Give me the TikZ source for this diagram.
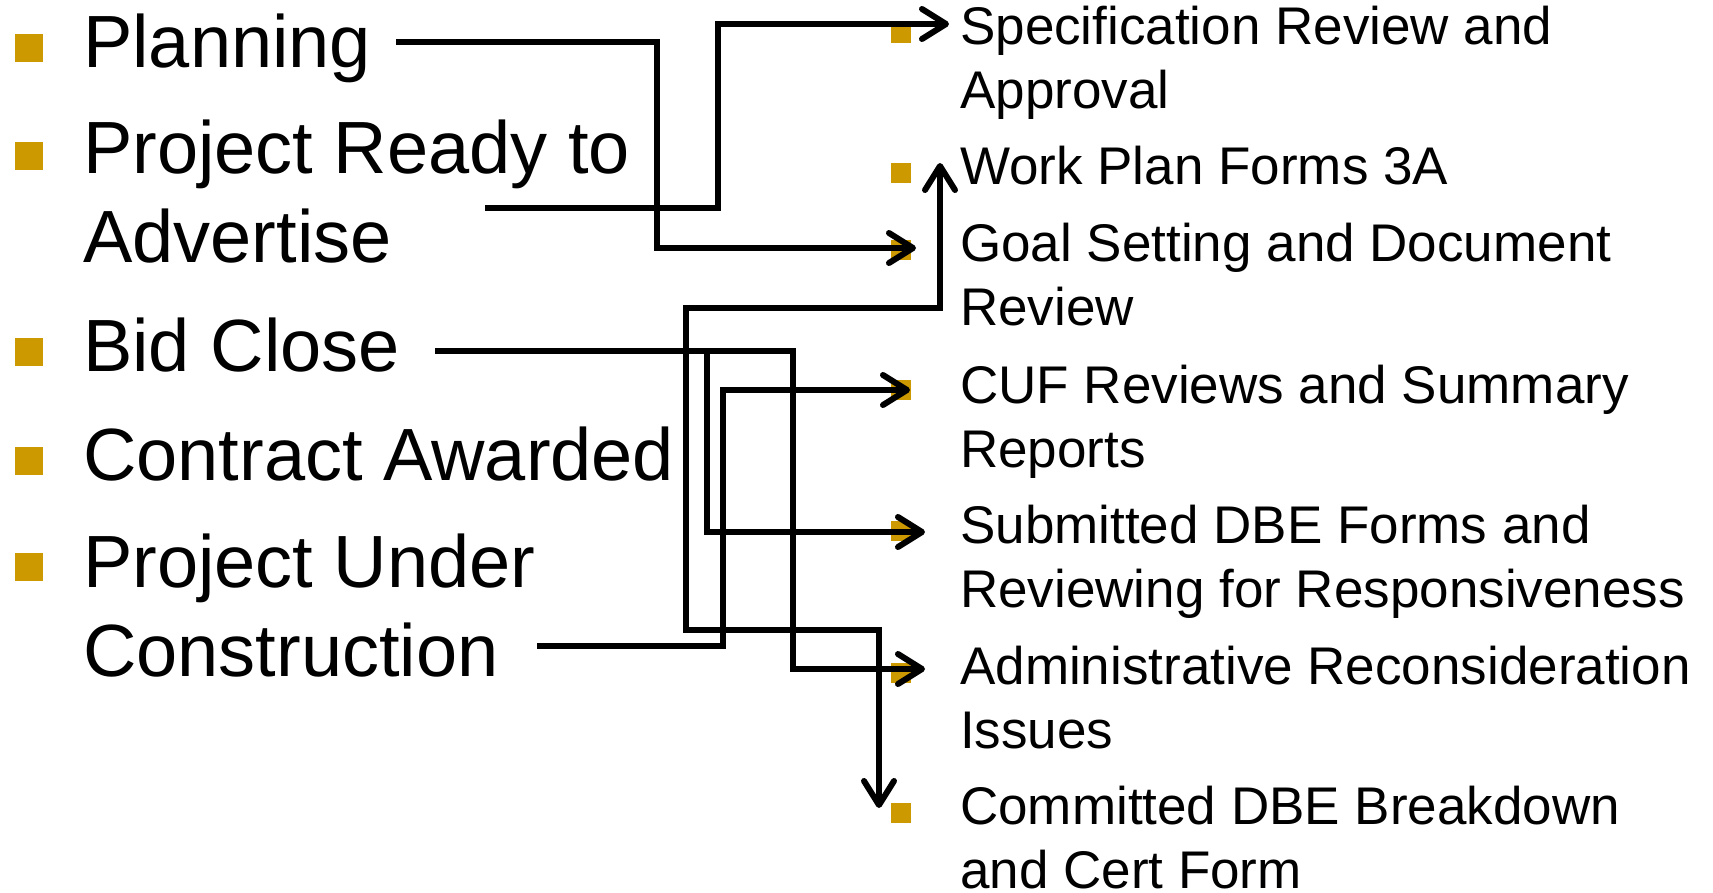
\documentclass[tikz,border=0pt]{standalone}
\usepackage{fontspec}
\setmainfont{Liberation Sans}
\usetikzlibrary{arrows.meta}
\definecolor{bulletgold}{RGB}{204,153,0}
\begin{document}
\begin{tikzpicture}[x=1pt,y=-1pt,
  bigtxt/.style={anchor=base west, inner sep=0pt, align=left, font=\fontsize{74}{89}\selectfont},
  smalltxt/.style={anchor=base west, inner sep=0pt, align=left, font=\fontsize{53}{64}\selectfont},
  bigbul/.style={fill=bulletgold, minimum size=28pt, inner sep=0pt, draw=none},
  smallbul/.style={fill=bulletgold, minimum size=20pt, inner sep=0pt, draw=none},
  tipstyle/.tip={Straight Barb[length=24pt, width=30pt, round]},
  conn/.style={line width=6pt, line join=miter, -tipstyle},
  conntwo/.style={line width=6pt, line join=miter, tipstyle-tipstyle}
]
\useasboundingbox (0,0) rectangle (1713,893);

% left column (multi-line nodes are placed by the baseline of their last line)
\node[bigbul] (bl1) at (28.5,48) {};
\node[bigbul] (bl2) at (28.5,156) {};
\node[bigbul] (bl3) at (28.5,352) {};
\node[bigbul] (bl4) at (28.5,461) {};
\node[bigbul] (bl5) at (28.5,567) {};
\node[bigtxt] (plan) at (83,68) {Planning};
\node[bigtxt] (ready) at (83,263) {Project Ready to\\Advertise};
\node[bigtxt] (bid) at (83,371) {Bid Close};
\node[bigtxt] (award) at (83,480) {Contract Awarded};
\node[bigtxt] (under) at (83,676) {Project Under\\Construction};

% right column
\node[smallbul] (br1) at (901,33) {};
\node[smallbul] (br2) at (901,173) {};
\node[smallbul] (br3) at (901,250) {};
\node[smallbul] (br4) at (901,390) {};
\node[smallbul] (br5) at (901,531) {};
\node[smallbul] (br6) at (901,673) {};
\node[smallbul] (br7) at (901,813) {};
\node[smalltxt] (spec) at (960,109) {Specification Review and\\Approval};
\node[smalltxt] (work) at (960,185) {Work Plan Forms 3A};
\node[smalltxt] (goal) at (960,325) {Goal Setting and Document\\Review};
\node[smalltxt] (cuf) at (960,467) {CUF Reviews and Summary\\Reports};
\node[smalltxt] (subm) at (960,607) {Submitted DBE Forms and\\Reviewing for Responsiveness};
\node[smalltxt] (admin) at (960,748) {Administrative Reconsideration\\Issues};
\node[smalltxt] (comm) at (960,888) {Committed DBE Breakdown\\and Cert Form};

% connector ends
\coordinate (planS) at (396,42);
\coordinate (readyS) at (485,208);
\coordinate (bidS) at (435,351);
\coordinate (bidJ) at (707,351);
\coordinate (underS) at (537,646);
\coordinate (specT) at (949,24);
\coordinate (workT) at (940,163);
\coordinate (goalT) at (916,248);
\coordinate (cufT) at (910,390);
\coordinate (submT) at (925,532);
\coordinate (adminT) at (925,669);
\coordinate (commT) at (879,808);

% connectors
\draw[conn] (planS) -- (657,42) -- (657,248) -- (goalT);
\draw[conn] (readyS) -- (718,208) -- (718,24) -- (specT);
\draw[conn] (bidS) -- (793,351) -- (793,669) -- (adminT);
\draw[conn] (bidJ) -- (707,532) -- (submT);
\draw[conntwo] (workT) -- (940,308) -- (686,308) -- (686,630) -- (879,630) -- (commT);
\draw[conn] (underS) -- (723,646) -- (723,390) -- (cufT);
\end{tikzpicture}
\end{document}
